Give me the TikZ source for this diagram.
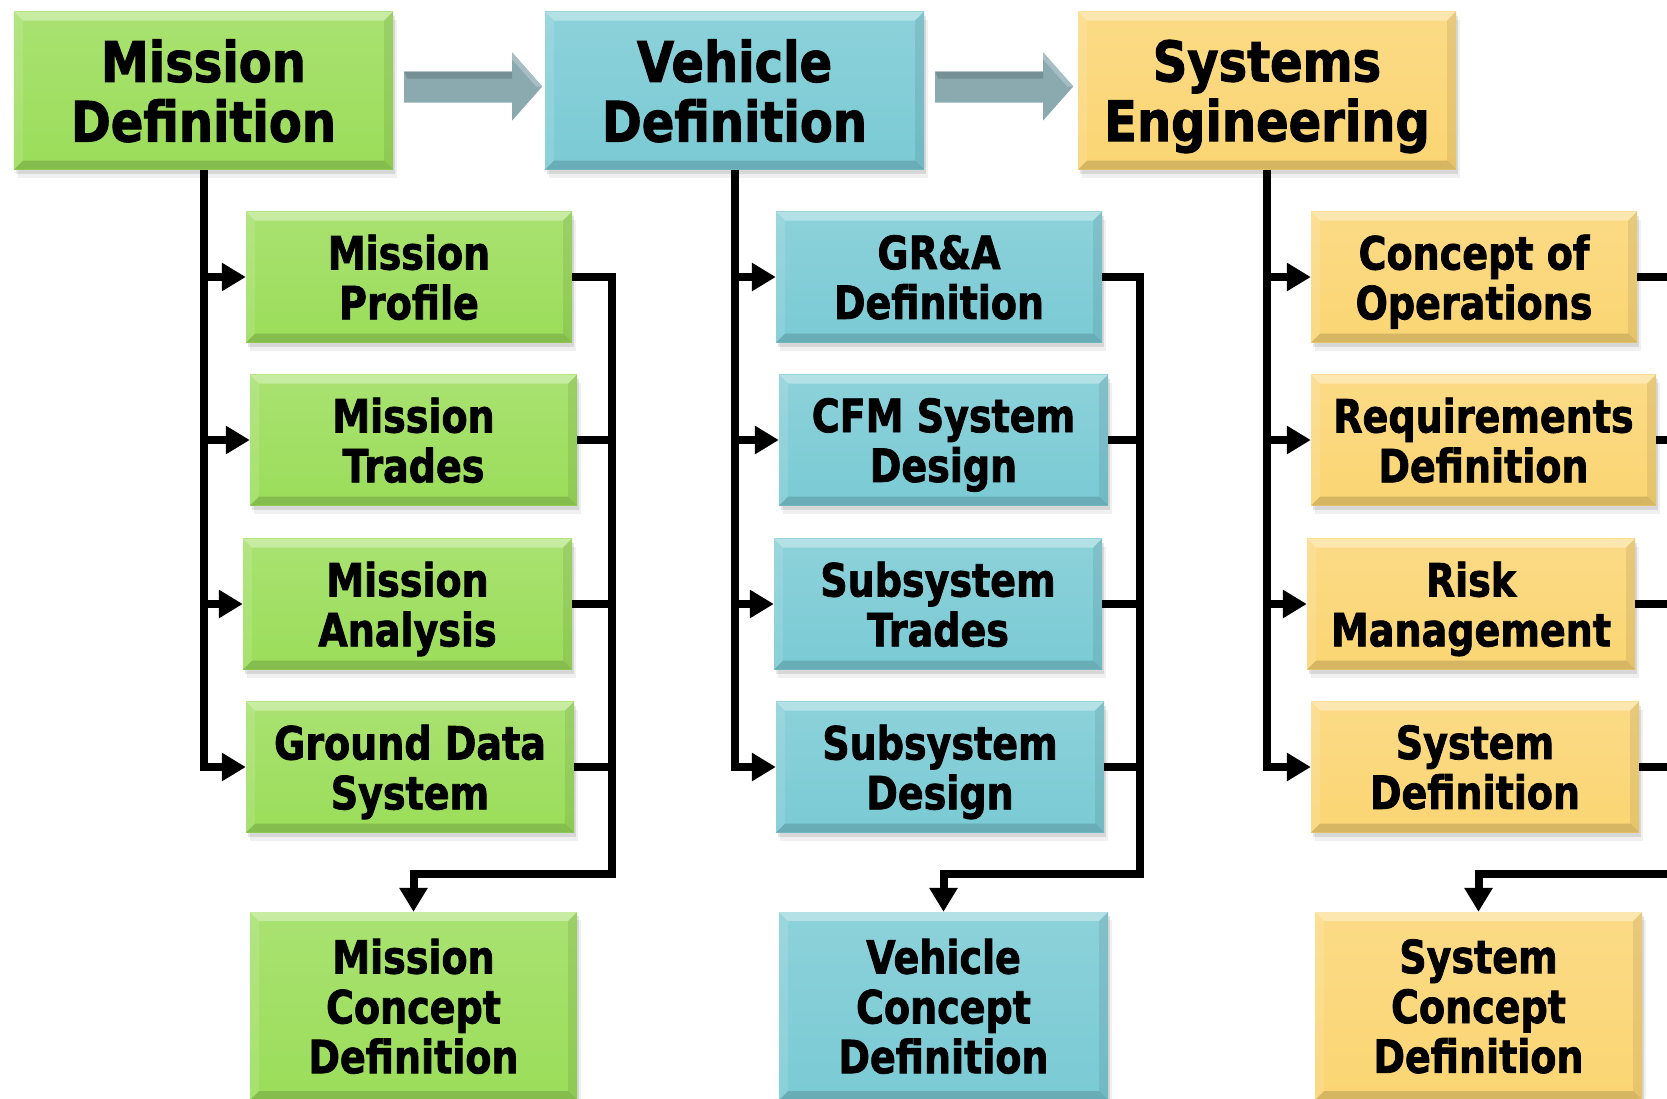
\documentclass[tikz,border=0pt]{standalone}
\usepackage{fontspec}
\newfontfamily\boxfont{DejaVu Sans}[FakeStretch=0.83, FakeBold=1.6]
\newfontfamily\hdrfont{DejaVu Sans}[FakeStretch=0.86, FakeBold=1.8]
\usetikzlibrary{arrows.meta,calc,shadows}
\definecolor{cg}{RGB}{155,221,90}
\definecolor{cb}{RGB}{122,202,212}
\definecolor{cy}{RGB}{251,213,115}
\definecolor{ca}{RGB}{138,170,176}
\tikzset{
  bx/.style={draw=none, inner sep=0pt, align=center, text=black, text depth=0pt,
    top color=#1!86!white, bottom color=#1,
    font=\boxfont\bfseries\fontsize{46}{50}\selectfont,
    drop shadow={shadow xshift=2bp, shadow yshift=-4bp, opacity=.10, fill=black},
    drop shadow={shadow xshift=4bp, shadow yshift=-8bp, opacity=.06, fill=black},
    path picture={
      \fill[white,opacity=.35] (path picture bounding box.north west) -- (path picture bounding box.north east)
        -- ([shift={(-9bp,-9bp)}]path picture bounding box.north east) -- ([shift={(9bp,-9bp)}]path picture bounding box.north west) -- cycle;
      \fill[black,opacity=.14] (path picture bounding box.south west) -- (path picture bounding box.south east)
        -- ([shift={(-9bp,9bp)}]path picture bounding box.south east) -- ([shift={(9bp,9bp)}]path picture bounding box.south west) -- cycle;
      \fill[white,opacity=.12] (path picture bounding box.south west) -- (path picture bounding box.north west)
        -- ([shift={(9bp,-9bp)}]path picture bounding box.north west) -- ([shift={(9bp,9bp)}]path picture bounding box.south west) -- cycle;
      \fill[black,opacity=.08] (path picture bounding box.south east) -- (path picture bounding box.north east)
        -- ([shift={(-9bp,-9bp)}]path picture bounding box.north east) -- ([shift={(-9bp,9bp)}]path picture bounding box.south east) -- cycle;
    }},
  hdr/.style={minimum width=379bp, minimum height=158bp, font=\hdrfont\bfseries\fontsize{56}{60}\selectfont},
  sub/.style={minimum height=131bp},
  fin/.style={minimum height=188bp},
  ln/.style={draw=black, line width=8bp},
  arr/.style={ln, -{Triangle[length=24bp,width=27bp]}},
}
\begin{document}
\begin{tikzpicture}[x=1bp,y=-1bp]
\useasboundingbox (0,0) rectangle (1667,1098);
\clip (0,0) rectangle (1667,1098);
\fill[white] (0,0) rectangle (1667,1098);

% headers
\node[bx=cg, hdr] (md) at (203.5,90.5) {Mission\\Definition};
\node[bx=cb, hdr] (vd) at (734.5,90.5) {Vehicle\\Definition};
\node[bx=cy, hdr, minimum width=378bp] (se) at (1267,90.5) {Systems\\Engineering};

% column 1
\node[bx=cg, sub, minimum width=326bp] (mp) at (409,277) {Mission\\Profile};
\node[bx=cg, sub, minimum width=327bp] (mt) at (413.5,440) {Mission\\Trades};
\node[bx=cg, sub, minimum width=329bp] (ma) at (407.5,604) {Mission\\Analysis};
\node[bx=cg, sub, minimum width=328bp] (gd) at (410,767) {Ground Data\\System};
\node[bx=cg, fin, minimum width=327bp] (mc) at (413.5,1006) {Mission\\Concept\\Definition};

% column 2
\node[bx=cb, sub, minimum width=326bp] (ga) at (939,277) {GR\&A\\Definition};
\node[bx=cb, sub, minimum width=329bp] (cf) at (943.5,440) {CFM System\\Design};
\node[bx=cb, sub, minimum width=328bp] (st) at (938,604) {Subsystem\\Trades};
\node[bx=cb, sub, minimum width=328bp] (sd) at (940,767) {Subsystem\\Design};
\node[bx=cb, fin, minimum width=329bp] (vc) at (943.5,1006) {Vehicle\\Concept\\Definition};

% column 3
\node[bx=cy, sub, minimum width=326bp] (co) at (1474,277) {Concept of\\Operations};
\node[bx=cy, sub, minimum width=345bp] (rd) at (1483.5,440) {Requirements\\Definition};
\node[bx=cy, sub, minimum width=328bp] (rm) at (1471,604) {Risk\\Management};
\node[bx=cy, sub, minimum width=328bp] (sy) at (1475,767) {System\\Definition};
\node[bx=cy, fin, minimum width=327bp] (sc) at (1478.5,1006) {System\\Concept\\Definition};

% big grey arrows between headers
\foreach \h in {md,vd}{
  \fill[ca] ($(\h.east)+(11,-19)$) -- ($(\h.east)+(119,-19)$) -- ($(\h.east)+(119,-38)$)
    -- ($(\h.east)+(149,-4)$) -- ($(\h.east)+(119,30)$) -- ($(\h.east)+(119,12)$)
    -- ($(\h.east)+(11,12)$) -- cycle;
  \fill[ca!85!black] ($(\h.east)+(11,-19)$) -- ($(\h.east)+(119,-19)$) -- ($(\h.east)+(119,-12)$) -- ($(\h.east)+(14,-12)$) -- cycle;
  \fill[ca!75!white] ($(\h.east)+(119,-38)$) -- ($(\h.east)+(149,-4)$) -- ($(\h.east)+(143,-4)$) -- ($(\h.east)+(119,-31)$) -- cycle;
}

% trunks and branches
\foreach \h/\a/\b/\c/\d in {md/mp/mt/ma/gd, vd/ga/cf/st/sd, se/co/rd/rm/sy}{
  \draw[arr] (\h.south) |- (\d.west);
  \draw[arr] (\h.south |- \a.west) -- (\a.west);
  \draw[arr] (\h.south |- \b.west) -- (\b.west);
  \draw[arr] (\h.south |- \c.west) -- (\c.west);
}

% collectors
\coordinate (k1) at (612,874);
\coordinate (k2) at (1140,874);
\coordinate (k3) at (1700,874);
\foreach \k/\a/\b/\c/\d/\e in {k1/mp/mt/ma/gd/mc, k2/ga/cf/st/sd/vc, k3/co/rd/rm/sy/sc}{
  \draw[arr] (\a.east) -| (\k) -| (\e.north);
  \draw[ln] (\b.east) -- (\b.east -| \k);
  \draw[ln] (\c.east) -- (\c.east -| \k);
  \draw[ln] (\d.east) -- (\d.east -| \k);
}
\end{tikzpicture}
\end{document}
